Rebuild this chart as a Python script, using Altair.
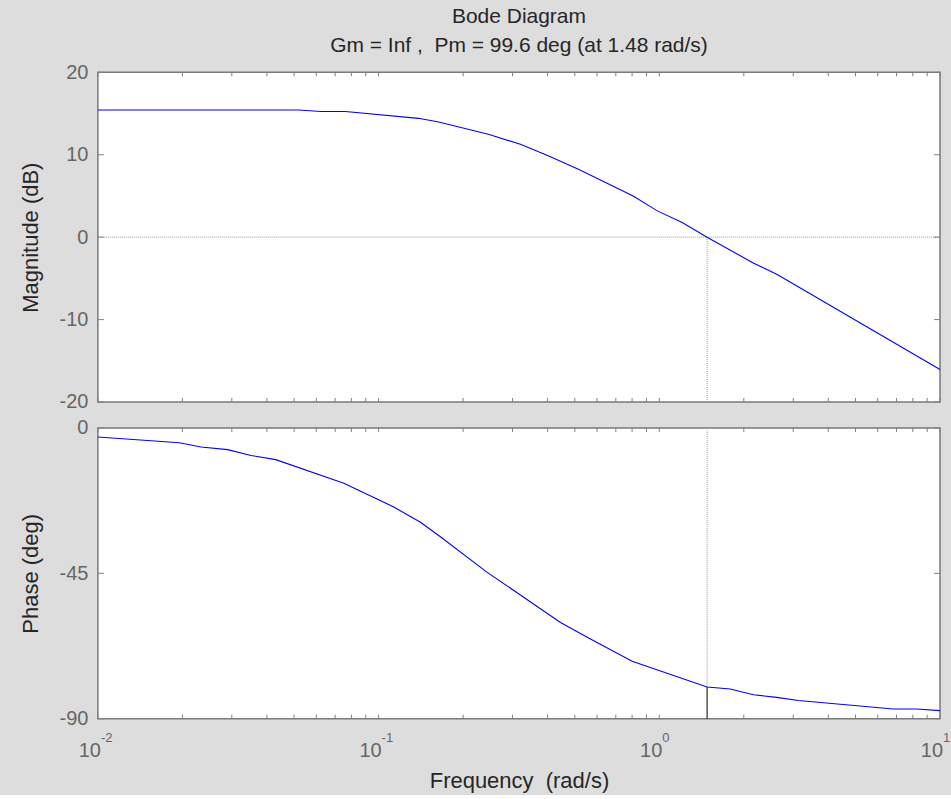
import altair as alt
import pandas as pd

FONT = "Liberation Sans"
NB = "\u00a0"

# ---- data ----
mag_w = [0.01, 0.0519, 0.0623, 0.0762, 0.1387, 0.1637, 0.246, 0.32, 0.40, 0.515,
         0.807, 0.984, 1.207, 1.48, 2.16, 2.63, 10.0]
mag_db = [15.43, 15.43, 15.24, 15.24, 14.42, 13.98, 12.48, 11.27, 9.9, 8.24,
          5.0, 3.19, 1.78, 0.0, -3.13, -4.54, -16.06]

ph_w = [0.01, 0.0195, 0.0233, 0.029, 0.0351, 0.043, 0.0752, 0.1133, 0.141, 0.166,
        0.2437, 0.32, 0.4445, 0.56, 0.80, 1.48, 1.789, 2.166, 2.62, 3.13, 6.82, 8.26, 10.0]
ph_deg = [-2.8, -4.6, -5.9, -6.7, -8.5, -9.8, -17.1, -24.5, -29.2, -33.7,
          -44.7, -51.7, -60.2, -65.0, -72.2, -80.2, -80.8, -82.6, -83.4, -84.4, -87.0, -87.0, -87.5]

wc = [1.48]
pm_phase = [-80.2]

mag_ticks = [-20, -10, 0, 10, 20]
ph_ticks = [0, -45, -90]
x_major = [0.01, 0.1, 1, 10]
x_base = ["10", "10", "10", "10"]
x_exp = ["-2", "-1", "0", "1"]
x_minor = [0.02, 0.03, 0.04, 0.05, 0.06, 0.07, 0.08, 0.09,
           0.2, 0.3, 0.4, 0.5, 0.6, 0.7, 0.8, 0.9,
           2, 3, 4, 5, 6, 7, 8, 9]

title_main = "Bode Diagram"
title_sub = "Gm = Inf ," + NB + NB + "Pm = 99.6 deg (at 1.48 rad/s)"
x_title = "Frequency" + NB + NB + "(rad/s)"

W = 843
H1 = 330
H2 = 291
TICK_COLOR = "#808080"
LABEL_COLOR = "#666666"
TITLE_COLOR = "#262626"

xs = alt.Scale(type="log", domain=[0.01, 10], nice=False)
ys_mag = alt.Scale(domain=[-20, 20], nice=False, zero=False)
ys_ph = alt.Scale(domain=[-90, 0], nice=False, zero=False)

LABEL_EXPR = "datum.value < 0 ? '-' + abs(datum.value) : '' + datum.value"


def yaxis(values, title):
    return alt.Axis(values=values, ticks=False, domain=False, grid=False,
                    labelExpr=LABEL_EXPR,
                    labelFontSize=20, labelColor=LABEL_COLOR, labelFont=FONT,
                    labelPadding=10, title=title, titleFontSize=22, titleFont=FONT,
                    titleColor=TITLE_COLOR, titleFontWeight="normal", titlePadding=17)


ax_mag = yaxis(mag_ticks, "Magnitude (dB)")
ax_ph = yaxis(ph_ticks, "Phase (deg)")
ax_x_bottom = alt.Axis(labels=False, ticks=False, domain=False, grid=False,
                       title=x_title, titleFontSize=22, titleFont=FONT,
                       titleColor=TITLE_COLOR, titleFontWeight="normal", titlePadding=52)

minor_df = pd.DataFrame({"w": x_minor + x_major})


def panel(line_df, ys, yax, xax, ticks, H, extra):
    X = lambda: alt.X("w:Q", scale=xs, axis=xax)
    Y = lambda: alt.Y("v:Q", scale=ys, axis=yax)
    tdf = pd.DataFrame({"v": ticks})
    layers = list(extra)
    layers += [
        alt.Chart(minor_df).mark_rule(color=TICK_COLOR, strokeWidth=1).encode(
            x=X(), y=alt.value(0), y2=alt.value(4)),
        alt.Chart(minor_df).mark_rule(color=TICK_COLOR, strokeWidth=1).encode(
            x=X(), y=alt.value(H), y2=alt.value(H - 4)),
        alt.Chart(tdf).mark_rule(color=TICK_COLOR, strokeWidth=1).encode(
            y=Y(), x=alt.value(0), x2=alt.value(6)),
        alt.Chart(tdf).mark_rule(color=TICK_COLOR, strokeWidth=1).encode(
            y=Y(), x=alt.value(W), x2=alt.value(W - 6)),
        alt.Chart(line_df).mark_line(color="#0000FF", strokeWidth=1.1, clip=True).encode(
            x=X(), y=Y()),
    ]
    return alt.layer(*layers).properties(width=W, height=H)


# ---- magnitude panel ----
mag_df = pd.DataFrame({"w": mag_w, "v": mag_db})
zero_df = pd.DataFrame({"v": [0]})
vline_top = pd.DataFrame({"w": wc, "v": [0], "v2": [-20]})

top_extra = [
    alt.Chart(zero_df).mark_rule(color="#9a9a9a", strokeWidth=1, strokeDash=[1, 1]).encode(
        y=alt.Y("v:Q", scale=ys_mag, axis=ax_mag)),
    alt.Chart(vline_top).mark_rule(color="#9a9a9a", strokeWidth=1, strokeDash=[1, 1]).encode(
        x=alt.X("w:Q", scale=xs, axis=None), y=alt.Y("v:Q", scale=ys_mag, axis=ax_mag), y2="v2"),
]
top = panel(mag_df, ys_mag, ax_mag, None, mag_ticks, H1, top_extra)

# ---- phase panel ----
ph_df = pd.DataFrame({"w": ph_w, "v": ph_deg})
vline_up = pd.DataFrame({"w": wc, "v": [0], "v2": pm_phase})
vline_dn = pd.DataFrame({"w": wc, "v": pm_phase, "v2": [-90]})
lab_df = pd.DataFrame({"w": x_major, "b": x_base, "e": x_exp})

bot_extra = [
    alt.Chart(vline_up).mark_rule(color="#9a9a9a", strokeWidth=1, strokeDash=[1, 1]).encode(
        x=alt.X("w:Q", scale=xs, axis=ax_x_bottom), y=alt.Y("v:Q", scale=ys_ph, axis=ax_ph), y2="v2"),
    alt.Chart(vline_dn).mark_rule(color="#000000", strokeWidth=1).encode(
        x=alt.X("w:Q", scale=xs, axis=ax_x_bottom), y=alt.Y("v:Q", scale=ys_ph, axis=ax_ph), y2="v2"),
    alt.Chart(lab_df).mark_text(align="right", baseline="middle", dx=3, fontSize=20,
                                font=FONT, color=LABEL_COLOR).encode(
        x=alt.X("w:Q", scale=xs, axis=ax_x_bottom), y=alt.value(H2 + 32), text="b:N"),
    alt.Chart(lab_df).mark_text(align="left", baseline="middle", dx=3, fontSize=13,
                                font=FONT, color=LABEL_COLOR).encode(
        x=alt.X("w:Q", scale=xs, axis=ax_x_bottom), y=alt.value(H2 + 19), text="e:N"),
]
bottom = panel(ph_df, ys_ph, ax_ph, ax_x_bottom, ph_ticks, H2, bot_extra)

chart = alt.vconcat(top, bottom, spacing=4).properties(
    title=alt.TitleParams(text=title_main, subtitle=title_sub, anchor="middle", frame="group",
                          fontSize=21, subtitleFontSize=21, font=FONT, subtitleFont=FONT,
                          fontWeight="normal", color=TITLE_COLOR, subtitleColor=TITLE_COLOR,
                          subtitlePadding=8, offset=6),
    background="#DDDDDD",
    padding={"left": 18, "top": 5, "right": 0, "bottom": 2},
).configure_view(fill="white", stroke="#7a7a7a", strokeWidth=1.5).configure_axis(grid=False)

chart.save("out.html", embed_options={"renderer": "svg", "actions": False})
